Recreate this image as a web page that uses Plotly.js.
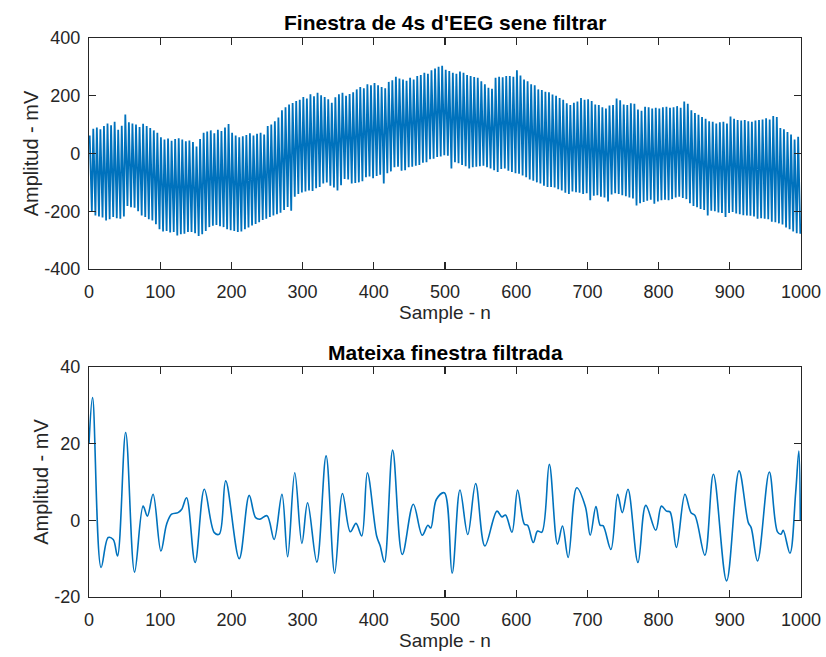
<!DOCTYPE html>
<html>
<head>
<meta charset="utf-8">
<script src="https://cdn.plot.ly/plotly-3.0.1.min.js"></script>
<style>html,body{margin:0;padding:0;background:#fff;}#chart{width:826px;height:657px;}</style>
</head>
<body>
<div id="chart"></div>
<script>
// ---- Data ----
// Raw EEG window (top): per-cycle peak (upper) and trough (lower) amplitudes, 200 cycles of 5 samples
const rawUpper = [
  62, 86, 90, 84, 95, 104, 98, 110, 82, 96,
  135, 108, 104, 100, 92, 103, 95, 88, 80, 72,
  56, 48, 52, 44, 50, 53, 48, 42, 45, 40,
  24, 50, 72, 76, 80, 70, 82, 78, 90, 102,
  72, 62, 56, 60, 64, 70, 62, 68, 72, 66,
  95, 100, 112, 125, 150, 160, 170, 175, 182, 186,
  196, 190, 205, 198, 210, 202, 196, 188, 176, 195,
  205, 210, 200, 206, 212, 222, 230, 226, 240, 236,
  244, 236, 230, 226, 248, 254, 266, 260, 256, 252,
  262, 256, 268, 272, 280, 276, 288, 294, 300, 304,
  290, 286, 280, 276, 284, 280, 272, 268, 265, 262,
  250, 240, 228, 224, 262, 266, 264, 268, 268, 266,
  288, 270, 256, 250, 240, 236, 222, 220, 214, 212,
  204, 200, 192, 186, 174, 168, 176, 180, 192, 186,
  188, 182, 170, 168, 160, 156, 166, 168, 190, 184,
  170, 168, 174, 172, 152, 148, 162, 160, 156, 158,
  156, 160, 162, 158, 160, 164, 158, 180, 172, 150,
  140, 134, 126, 120, 112, 110, 104, 108, 110, 104,
  128, 120, 116, 114, 116, 112, 110, 114, 116, 118,
  122, 118, 130, 126, 88, 84, 74, 66, 48, 58
];
const rawLower = [
  -200, -215, -218, -222, -232, -228, -220, -224, -226, -218,
  -182, -186, -188, -200, -215, -220, -228, -232, -245, -262,
  -270, -268, -274, -272, -284, -280, -278, -272, -272, -276,
  -286, -280, -268, -255, -250, -248, -252, -255, -262, -266,
  -268, -272, -270, -262, -256, -249, -244, -238, -230, -226,
  -220, -215, -210, -205, -196, -185, -198, -150, -140, -135,
  -132, -128, -130, -120, -116, -104, -100, -112, -118, -128,
  -110, -88, -90, -104, -102, -100, -96, -82, -80, -86,
  -78, -74, -104, -68, -62, -48, -46, -60, -58, -48,
  -46, -42, -40, -32, -30, -20, -18, -12, -10, -6,
  -8, -52, -30, -34, -40, -44, -52, -48, -46, -44,
  -42, -48, -52, -58, -64, -54, -52, -60, -64, -68,
  -70, -76, -82, -90, -94, -100, -104, -112, -116, -116,
  -118, -124, -128, -136, -140, -132, -134, -136, -140, -138,
  -162, -146, -145, -150, -152, -166, -142, -138, -140, -145,
  -148, -152, -156, -180, -172, -168, -164, -160, -174, -166,
  -162, -160, -162, -158, -152, -150, -154, -158, -172, -182,
  -186, -192, -196, -215, -198, -200, -204, -206, -220, -206,
  -203, -208, -210, -214, -215, -216, -218, -226, -224, -226,
  -228, -236, -238, -242, -246, -256, -262, -270, -276, -278
];
const peakOffset = 1, troughOffset = 4, cycleLen = 5;

// Filtered window (bottom): sample index and amplitude of points
const filtSample = [0, 5, 17, 27, 34, 40, 51.5, 64, 76, 82, 90, 101, 109, 116, 125, 130, 137, 149, 162, 176, 183, 192, 211, 225, 234, 240, 250,
  260, 271, 279, 289, 299, 307, 320, 333, 345, 356, 367, 375, 383, 391, 404, 409, 415, 426.5, 440, 455.5, 468, 476, 480, 488, 499,
  510, 521, 532, 543, 556, 573, 580, 585, 594, 602, 611.5, 616, 624, 630, 636, 646.5, 658, 665, 673, 685, 697, 704, 712, 718, 722, 733, 742.5, 749, 757,
  771, 782, 796, 804, 811, 816, 825, 837, 845.5, 851, 865, 877, 895.5, 913, 926, 930, 939, 955.5, 967, 972, 975, 984.5, 992.5, 997, 999];
const filtAmp = [20, 32, -12.3, -4.5, -5, -9.3, 22.9, -13.5, 3.7, 1.1, 6.8, -8, -1, 1.6, 2, 2.8, 5.9, -11, 8.1, -3.2, -3.6, 10.3, -10, 6.5, 0.7, 0.3, 1.2,
  -5, 6.8, -9.5, 12.4, -6, 4.6, -10.9, 16.8, -13.8, 7, -3, -0.8, -4.1, 12.4, -4.1, -6.7, -10.9, 18.3, -8.9, 4.2, -3.9, -1.3, -2, 5.5, 7.2,
  -13.8, 7.9, -3.7, 9.6, -6.7, 2.4, 0.9, 1.4, -3.1, 7.9, -1, -1.3, -5.8, -2.8, -3.1, 14.6, -6.2, -1.5, -9.7, 8.5, 3.7, -3.9, 3.6, -1.3, -1.4, -7.6, 6.8, 2, 8.1,
  -11, 3.9, -2.6, 3.7, 2.4, 2.2, -7.1, 6.8, 2, 1.3, -9.1, 12, -15.8, 12.9, -0.6, -1.9, -10.6, 12.6, -3, -3.6, -2.6, -8.6, 7.2, 18.1, 0];

const titleTop = "Finestra de 4s d'EEG sene filtrar";
const titleBottom = "Mateixa finestra filtrada";
const xLabel = "Sample - n";
const yLabel = "Amplitud - mV";
const xTicks = [0, 100, 200, 300, 400, 500, 600, 700, 800, 900, 1000];
const yTicksTop = [-400, -200, 0, 200, 400];
const yTicksBottom = [-20, 0, 20, 40];

// ---- Build the raw trace from peak/trough readings ----
const rawX = [], rawY = [];
for (let k = 0; k < rawUpper.length; k++) {
  rawX.push(k * cycleLen + peakOffset); rawY.push(rawUpper[k]);
  rawX.push(k * cycleLen + troughOffset); rawY.push(rawLower[k]);
}

const blue = '#0072BD';
const ink = '#262626';
const FONT = 'Liberation Sans, Arial, Helvetica, sans-serif';

const traces = [
  {x: rawX, y: rawY, type: 'scatter', mode: 'lines', line: {color: blue, width: 1.8}, xaxis: 'x', yaxis: 'y', hoverinfo: 'skip'},
  {x: filtSample, y: filtAmp, type: 'scatter', mode: 'lines', line: {color: blue, width: 1.6, shape: 'spline', smoothing: 1}, xaxis: 'x2', yaxis: 'y2', hoverinfo: 'skip'}
];

function xAxis(anchor) {
  return {
    anchor: anchor, domain: [0, 1], range: [0, 1000], tickvals: xTicks, ticktext: xTicks.map(String),
    ticks: 'inside', ticklen: 7, tickwidth: 1.2, tickcolor: ink,
    showline: true, linecolor: ink, linewidth: 1.2, mirror: 'ticks',
    showgrid: false, zeroline: false, tickfont: {family: FONT, size: 18, color: ink},
    ticklabelstandoff: 6,
    title: {text: xLabel, font: {family: FONT, size: 19, color: ink}, standoff: 4}
  };
}
function yAxis(anchor, domain, range, ticks) {
  return {
    anchor: anchor, domain: domain, range: range, tickvals: ticks, ticktext: ticks.map(String),
    ticks: 'inside', ticklen: 7, tickwidth: 1.2, tickcolor: ink,
    showline: true, linecolor: ink, linewidth: 1.2, mirror: 'ticks',
    showgrid: false, zeroline: false, tickfont: {family: FONT, size: 18, color: ink},
    ticklabelstandoff: 4,
    title: {text: yLabel, font: {family: FONT, size: 20, color: ink}, standoff: 0}
  };
}

const layout = {
  width: 826, height: 657,
  margin: {l: 89, r: 25, t: 38, b: 60},
  paper_bgcolor: '#ffffff', plot_bgcolor: '#ffffff',
  showlegend: false,
  xaxis: xAxis('y'),
  yaxis: yAxis('x', [0.5868, 1], [-400, 400], yTicksTop),
  xaxis2: xAxis('y2'),
  yaxis2: yAxis('x2', [0, 0.4115], [-20, 40], yTicksBottom),
  annotations: [
    {text: '<b>' + titleTop + '</b>', xref: 'paper', yref: 'paper', x: 0.5, y: 1.0286, xanchor: 'center', yanchor: 'middle', showarrow: false, font: {family: FONT, size: 21, color: '#000'}},
    {text: '<b>' + titleBottom + '</b>', xref: 'paper', yref: 'paper', x: 0.5, y: 0.438, xanchor: 'center', yanchor: 'middle', showarrow: false, font: {family: FONT, size: 21, color: '#000'}}
  ]
};

Plotly.newPlot('chart', traces, layout, {staticPlot: true, displayModeBar: false});
</script>
</body>
</html>
